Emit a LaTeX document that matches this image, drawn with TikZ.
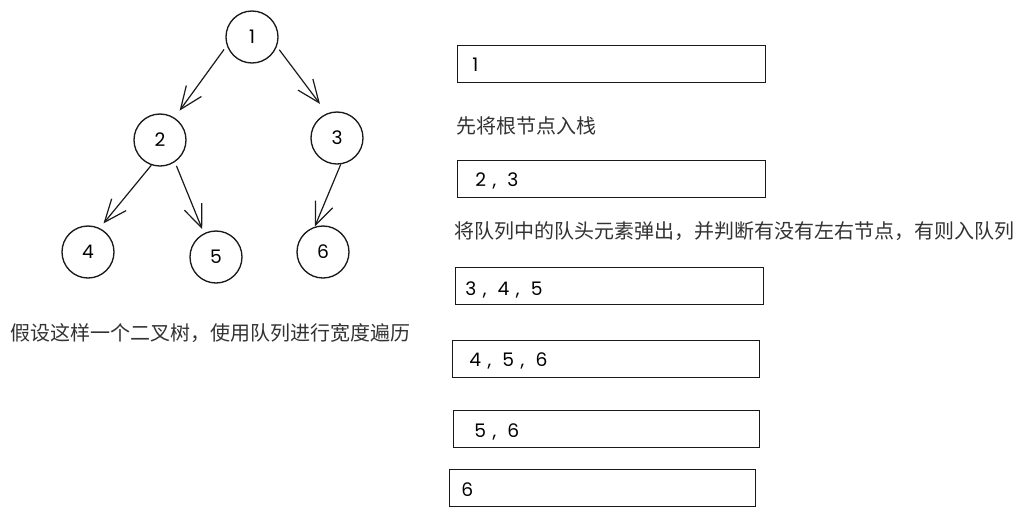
\documentclass[tikz,border=0pt]{standalone}
\usepackage{fontspec}
\setmainfont{Poppins}
\newfontfamily\cjk{Noto Sans CJK SC}
\usetikzlibrary{arrows.meta}
\newcommand{\qsep}{\hspace{0.35em},\hspace{0.6em}}
\begin{document}
\begin{tikzpicture}[x=0.75pt,y=-0.75pt,
  treenode/.style={circle,draw=black!90,line width=1pt,minimum size=39pt,inner sep=0pt,font=\fontsize{14}{16}\selectfont},
  edge/.style={draw=black!90,line width=0.9pt,-{Straight Barb[length=17pt,width=14pt,line width=0.9pt]}},
  qbox/.style={draw=black!90,line width=0.9pt,minimum height=27.75pt,inner sep=0pt,anchor=north west},
  qtext/.style={anchor=west,inner sep=0pt,font=\fontsize{14}{16}\selectfont},
  note/.style={anchor=west,inner sep=0pt,text=black!80,font=\cjk\fontsize{15}{18}\selectfont}]
\useasboundingbox[fill=white] (0,0) rectangle (1024,515);

% tree
\node[treenode] (n1) at (252,37) {1};
\node[treenode] (n2) at (160,140) {2};
\node[treenode] (n3) at (337,138) {3};
\node[treenode] (n4) at (88,252) {4};
\node[treenode] (n5) at (216,257) {5};
\node[treenode] (n6) at (323,252) {6};

\draw[edge,shorten <=3.5pt,shorten >=6.5pt] (n1.199) -- (n2.57);
\draw[edge,shorten <=3pt,shorten >=8.8pt] (n1.339) -- (n3.112);
\draw[edge,shorten >=4.5pt] (n2.251) -- (n4.64);
\draw[edge,shorten <=3pt,shorten >=3.3pt] (n2.304) -- (n5.117);
\draw[edge] (n3.278) -- (n6.108);

\node[note] (cap) at (10,333) {假设这样一个二叉树，使用队列进行宽度遍历};

% queue states
\node[qbox,minimum width=231pt] (b1) at (457,45) {};
\node[qtext] (t1) at (472,65) {1};
\node[note] (s1) at (456,126) {先将根节点入栈};

\node[qbox,minimum width=231pt] (b2) at (457,160) {};
\node[qtext] (t2) at (475,181) {2\qsep 3};
\node[note] (s2) at (454,231) {将队列中的队头元素弹出，并判断有没有左右节点，有则入队列};

\node[qbox,minimum width=231pt] (b3) at (455,267) {};
\node[qtext] (t3) at (465,290) {3\qsep 4\qsep 5};

\node[qbox,minimum width=230pt] (b4) at (452,340) {};
\node[qtext] (t4) at (469,361) {4\qsep 5\qsep 6};

\node[qbox,minimum width=229.5pt] (b5) at (453,410) {};
\node[qtext] (t5) at (474,432) {5\qsep 6};

\node[qbox,minimum width=229.5pt] (b6) at (449,469) {};
\node[qtext] (t6) at (461,490) {6};
\end{tikzpicture}
\end{document}
